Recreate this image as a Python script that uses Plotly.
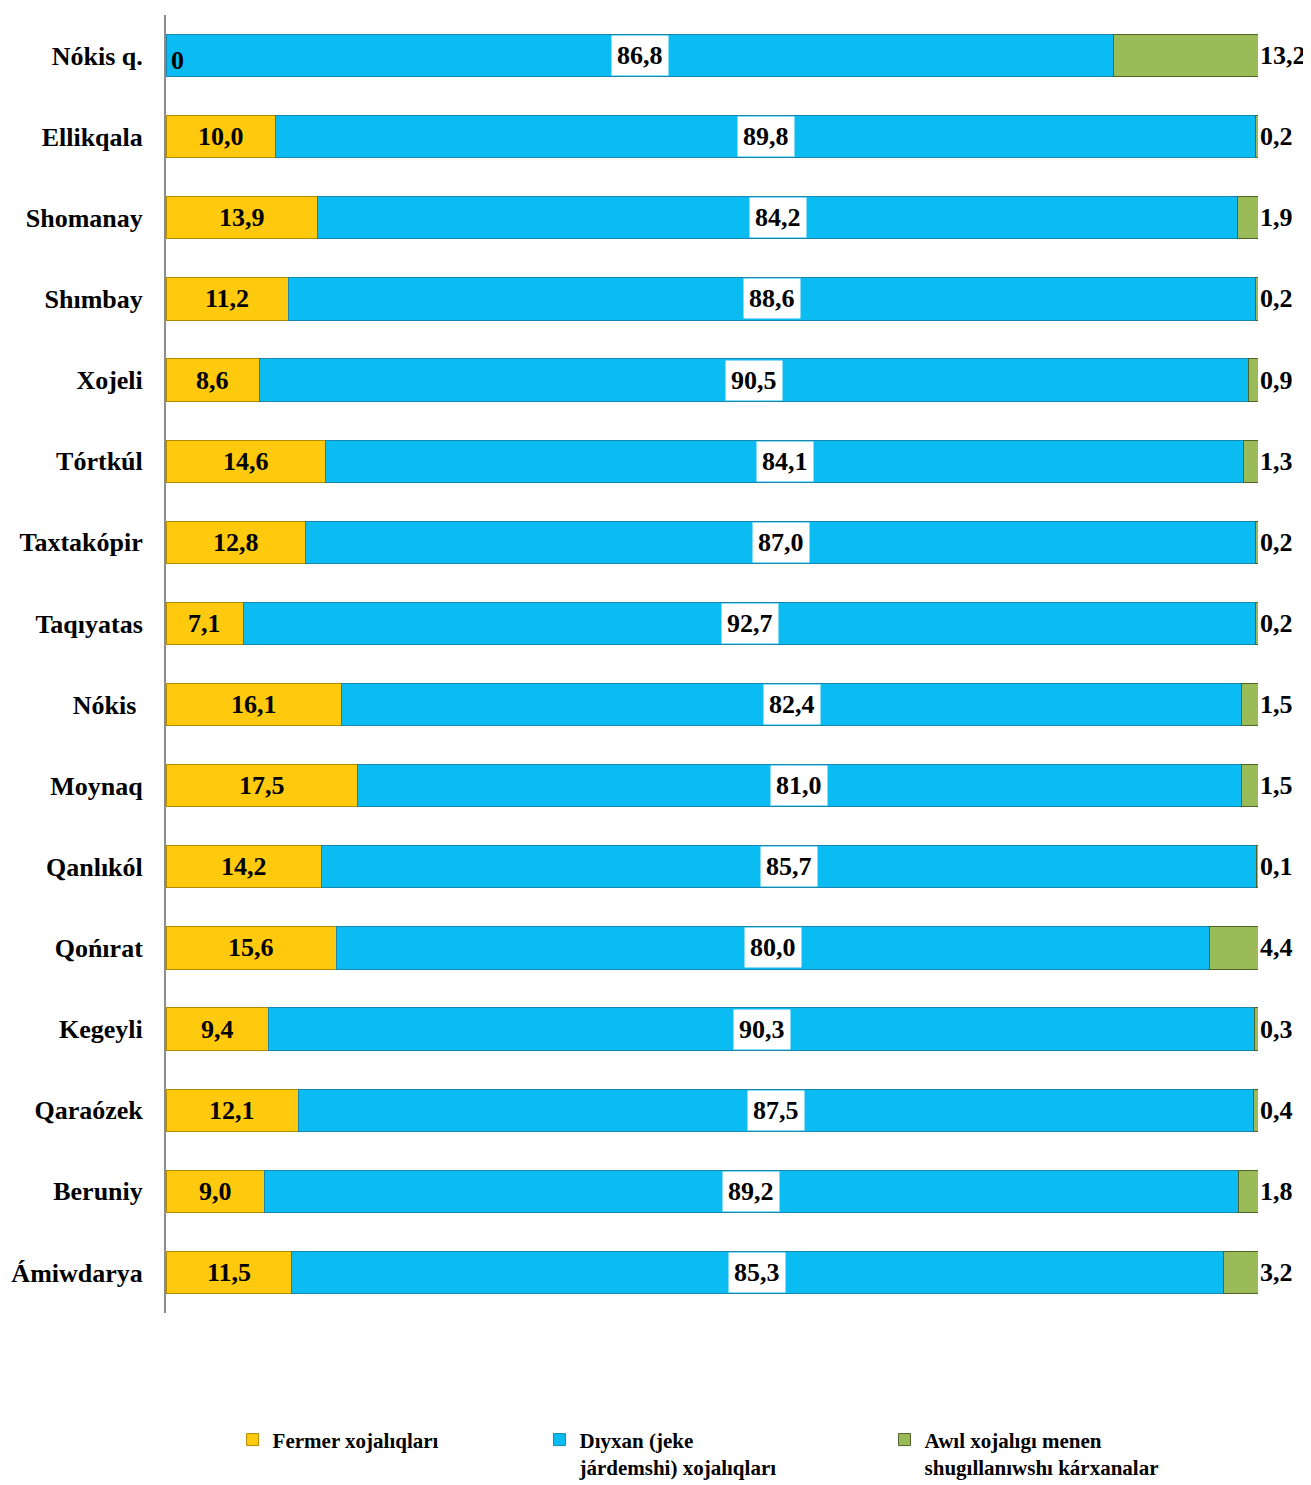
import plotly.graph_objects as go

districts = [
    "Nókis q.", "Ellikqala", "Shomanay", "Shımbay", "Xojeli", "Tórtkúl",
    "Taxtakópir", "Taqıyatas", "Nókis ", "Moynaq", "Qanlıkól", "Qońırat",
    "Kegeyli", "Qaraózek", "Beruniy", "Ámiwdarya",
]
fermer = [0, 10.0, 13.9, 11.2, 8.6, 14.6, 12.8, 7.1, 16.1, 17.5, 14.2, 15.6, 9.4, 12.1, 9.0, 11.5]
dyxan = [86.8, 89.8, 84.2, 88.6, 90.5, 84.1, 87.0, 92.7, 82.4, 81.0, 85.7, 80.0, 90.3, 87.5, 89.2, 85.3]
awil = [13.2, 0.2, 1.9, 0.2, 0.9, 1.3, 0.2, 0.2, 1.5, 1.5, 0.1, 4.4, 0.3, 0.4, 1.8, 3.2]

series_names = [
    "Fermer xojalıqları",
    "Dıyxan (jeke<br>járdemshi) xojalıqları",
    "Awıl xojalıgı menen<br>shugıllanıwshı kárxanalar",
]

COLORS = ["#FFC90E", "#0BBCF3", "#9BBB59"]
EDGES = ["#B08A00", "#1A86B0", "#4F6228"]
FONT = "Liberation Serif"


def fmt(v):
    return f"{v:.1f}".replace(".", ",")


fig = go.Figure()
legend_keys = ["legend", "legend2", "legend3"]
for i, vals in enumerate([fermer, dyxan, awil]):
    fig.add_trace(go.Bar(
        y=districts,
        x=vals,
        orientation="h",
        name=series_names[i],
        marker=dict(color=COLORS[i], line=dict(color=EDGES[i], width=1)),
        width=0.52,
        legend=legend_keys[i],
        hoverinfo="x+y",
    ))

label_font = dict(family=FONT, size=26, color="black", weight=700)

for name, f, d, a in zip(districts, fermer, dyxan, awil):
    if f > 0:
        fig.add_annotation(x=f / 2, y=name, text=fmt(f), showarrow=False, font=label_font)
    else:
        fig.add_annotation(x=0, y=name, text="0", showarrow=False, font=label_font,
                           xanchor="left", xshift=3, yshift=-5)
    fig.add_annotation(x=f + d / 2, y=name, text=fmt(d), showarrow=False, font=label_font,
                       bgcolor="white", borderpad=5)
    fig.add_annotation(x=100, y=name, text=fmt(a), showarrow=False, font=label_font,
                       xanchor="left", xshift=0)

legend_font = dict(family=FONT, size=21, color="black", weight=700)
legend_x = [0.061, 0.342, 0.658]
layout_legends = {}
for key, lx in zip(legend_keys, legend_x):
    layout_legends[key] = dict(
        x=lx, y=-0.082, xanchor="left", yanchor="top",
        font=legend_font, valign="top", bgcolor="rgba(0,0,0,0)",
        itemwidth=30, tracegroupgap=0,
    )

# page body has an 8px margin, so the figure is slightly smaller than the window
fig.update_layout(
    barmode="stack",
    width=1303,
    height=1477,
    margin=dict(l=158, r=53, t=7, b=172, autoexpand=False),
    paper_bgcolor="white",
    plot_bgcolor="white",
    showlegend=True,
    **layout_legends,
)

fig.update_xaxes(visible=False, range=[0, 100], fixedrange=True)
fig.update_yaxes(
    categoryorder="array",
    categoryarray=districts,
    autorange="reversed",
    showline=True,
    linecolor="#8c8c8c",
    linewidth=2,
    showgrid=False,
    ticks="",
    ticklabelstandoff=16,
    tickfont=dict(family=FONT, size=26, color="black", weight=700),
)

fig.write_html("out.html")
